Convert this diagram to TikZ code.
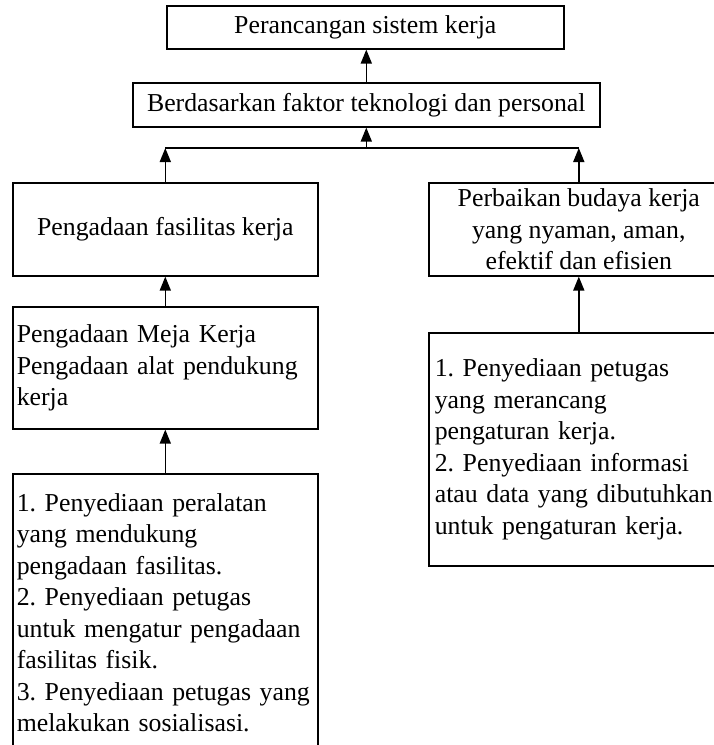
\documentclass[tikz,border=0pt]{standalone}
\usepackage{fontspec}
\setmainfont{Liberation Serif}
\usetikzlibrary{arrows.meta}
\frenchspacing
\begin{document}
\begin{tikzpicture}[x=1pt,y=-1pt,
  box/.style={draw, line width=1.6pt, inner sep=0pt, anchor=north west,
    font=\fontsize{25.8}{31.5}\selectfont\frenchspacing},
  arr/.style={line width=1.6pt, -{Triangle[length=14pt,width=11pt]}},
  link/.style={line width=1.6pt}]
\useasboundingbox (0,0) rectangle (713,745);
\node[box, minimum width=397pt, minimum height=43pt] (top) at (166,5) {Perancangan sistem kerja};
\node[box, minimum width=467pt, minimum height=44pt] (mid) at (132,82) {Berdasarkan faktor teknologi dan personal};
\node[box, minimum width=305pt, minimum height=93pt] (fas) at (12,182) {Pengadaan fasilitas kerja};
\node[box, minimum width=300pt, minimum height=93pt, align=center] (bud) at (428,182)
  {Perbaikan budaya kerja\\yang nyaman, aman,\\efektif dan efisien};
\node[box, minimum width=305pt, minimum height=122pt, text width=297pt, align=left] (meja) at (12,306)
  {Pengadaan Meja Kerja\\Pengadaan alat pendukung\\kerja};
\node[box, minimum width=305pt, minimum height=278pt, text width=297pt, align=left] (alat) at (12,473)
  {1. Penyediaan peralatan\\yang mendukung\\pengadaan fasilitas.\\2. Penyediaan petugas\\untuk mengatur pengadaan\\fasilitas fisik.\\3. Penyediaan petugas yang\\melakukan sosialisasi.};
\node[box, minimum width=300pt, minimum height=233pt, text width=288pt, align=left] (info) at (428,332)
  {1. Penyediaan petugas\\yang merancang\\pengaturan kerja.\\2. Penyediaan informasi\\atau data yang dibutuhkan\\untuk pengaturan kerja.};
\coordinate (j) at (365,148);
\draw[arr] (mid.north) -- (mid.north |- top.south);
\draw[link] (fas.north |- j) -- (bud.north |- j);
\draw[arr] (mid.south |- j) -- (mid.south);
\draw[arr] (fas.north) -- (fas.north |- j);
\draw[arr] (bud.north) -- (bud.north |- j);
\draw[arr] (meja.north) -- (fas.south);
\draw[arr] (alat.north) -- (meja.south);
\draw[arr] (info.north) -- (bud.south);
\end{tikzpicture}
\end{document}
